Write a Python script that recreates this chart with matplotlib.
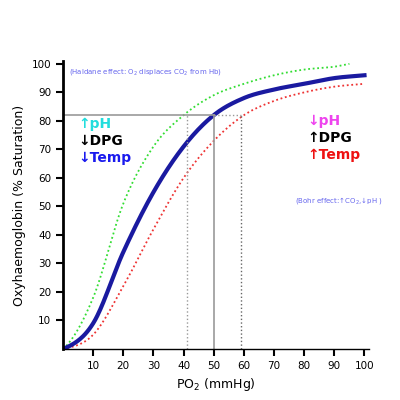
import matplotlib
matplotlib.use("Agg")
import matplotlib.pyplot as plt
import numpy as np

po2 = [0, 10, 20, 30, 40, 50, 60, 70, 80, 90, 100]
normal = [0, 9, 34, 55, 71, 82, 88, 91, 93, 95, 96]
left_shift_x = [0, 10, 20, 30, 40, 50, 60, 70, 80, 90, 95]
left_shift = [0, 18, 51, 71, 82, 89, 93, 96, 98, 99, 100]
right_shift = [0, 5, 22, 42, 60, 73, 82, 87, 90, 92, 93]
p50_vals = [41, 50, 59]
sat_ref = 82
ticks = [10, 20, 30, 40, 50, 60, 70, 80, 90, 100]

def smooth(x, y):
    xs = np.linspace(x[0], x[-1], 300)
    x = np.asarray(x, float); y = np.asarray(y, float)
    d = np.diff(y) / np.diff(x)
    m = np.zeros_like(y)
    m[1:-1] = (d[:-1] + d[1:]) / 2
    m[0] = d[0] * 0.5; m[-1] = d[-1]
    ys = np.empty_like(xs)
    for i, xv in enumerate(xs):
        k = min(np.searchsorted(x, xv, side='right') - 1, len(x) - 2)
        h = x[k+1] - x[k]; t = (xv - x[k]) / h
        h00 = 2*t**3 - 3*t**2 + 1; h10 = t**3 - 2*t**2 + t
        h01 = -2*t**3 + 3*t**2; h11 = t**3 - t**2
        ys[i] = h00*y[k] + h10*h*m[k] + h01*y[k+1] + h11*h*m[k+1]
    return xs, ys

fig = plt.figure(figsize=(4, 4), dpi=100)
ax = fig.add_axes([0.1575, 0.1275, 0.765, 0.72])
ax.plot(*smooth(left_shift_x, left_shift), color='#33dd33', ls=(0, (1, 1.5)), lw=1.3)
ax.plot(*smooth(po2, right_shift), color='#ee3333', ls=(0, (1, 1.5)), lw=1.3)
ax.plot(*smooth(po2, normal), color='#1a1aa0', lw=3)

ax.plot([0, p50_vals[1]], [sat_ref, sat_ref], color='#999999', lw=1.2)
ax.plot([p50_vals[1], p50_vals[2]], [sat_ref, sat_ref], color='#999999', lw=1, ls=':')
ax.plot([p50_vals[1], p50_vals[1]], [0, sat_ref], color='#999999', lw=1.2)
ax.plot([p50_vals[0], p50_vals[0]], [0, sat_ref], color='#999999', lw=1, ls=':')
ax.plot([p50_vals[2], p50_vals[2]], [0, sat_ref], color='#666666', lw=1, ls=':')

ax.set_xlim(0, 101.5)
ax.set_ylim(0, 101)
ax.set_xticks(ticks)
ax.set_yticks(ticks)
ax.tick_params(labelsize=7.5, length=5, width=1.5)
for s in ['top', 'right']:
    ax.spines[s].set_visible(False)
ax.spines['left'].set_linewidth(2)
ax.spines['bottom'].set_linewidth(1)
ax.yaxis.get_ticklines()[4].set_color('#228844')
ax.set_xlabel('PO$_2$ (mmHg)', fontsize=9)
ax.set_ylabel('Oxyhaemoglobin (% Saturation)', fontsize=9)

ax.text(2, 97, '(Haldane effect: O$_2$ displaces CO$_2$ from Hb)', color='#6666ee', fontsize=5, va='center')
big = dict(fontsize=10, va='center', fontweight='bold')
ax.text(5, 79, '↑pH', color='#22dddd', **big)
ax.text(5, 73, '↓DPG', color='black', **big)
ax.text(5, 67, '↓Temp', color='#1a1aee', **big)
ax.text(81, 80, '↓pH', color='#ee44ee', **big)
ax.text(81, 74, '↑DPG', color='black', **big)
ax.text(81, 68, '↑Temp', color='#ee1111', **big)
ax.text(77, 52, '(Bohr effect:↑CO$_2$,↓pH )', color='#6666ee', fontsize=5, va='center')

fig.savefig('out.png', dpi=100)
